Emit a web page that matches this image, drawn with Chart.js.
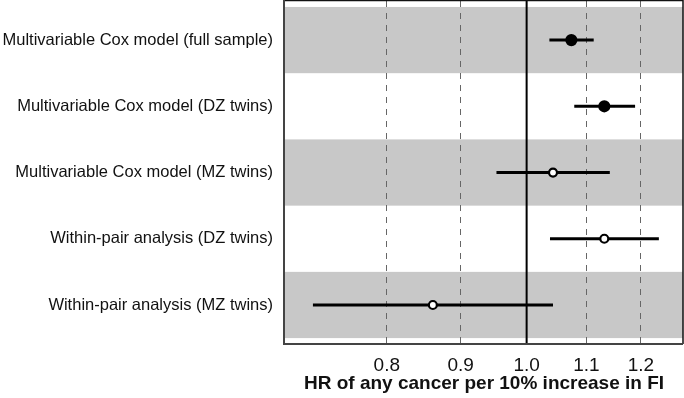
<!DOCTYPE html>
<html>
<head>
<meta charset="utf-8">
<script src="https://cdn.jsdelivr.net/npm/chart.js@4"></script>
<style>
    html, body { margin: 0; padding: 0; background: #fff; }
    #wrap { width: 684px; height: 398px; }
</style>
</head>
<body>
<div id="wrap"><canvas id="forestChart" width="684" height="398"></canvas></div>
<script>
// Estimates (top row first)
const models = [
    'Multivariable Cox model (full sample)',
    'Multivariable Cox model (DZ twins)',
    'Multivariable Cox model (MZ twins)',
    'Within-pair analysis (DZ twins)',
    'Within-pair analysis (MZ twins)'
];
const hr = [1.074, 1.132, 1.043, 1.132, 0.861];
const ciLow = [1.037, 1.079, 0.953, 1.038, 0.711];
const ciHigh = [1.113, 1.189, 1.142, 1.235, 1.043];
const filled = [true, true, false, false, false];
const xTicks = [0.8, 0.9, 1.0, 1.1, 1.2];

const X_MIN = 0.681;
const X_MAX = 1.2835;
const Y_MIN = 0.41;
const Y_MAX = 5.574;
const FONT = "'Liberation Sans', Arial, Helvetica, sans-serif";

// Gray bands behind every other row
const bandsPlugin = {
    id: 'bands',
    beforeDraw(chart) {
        const { ctx, chartArea } = chart;
        const y = chart.scales.y;
        ctx.save();
        ctx.fillStyle = '#c8c8c8';
        models.forEach((m, i) => {
            if (i % 2 !== 0) return;
            const top = y.getPixelForValue(i + 0.5);
            const bottom = y.getPixelForValue(i + 1.5);
            ctx.fillRect(chartArea.left, top, chartArea.right - chartArea.left, bottom - top);
        });
        ctx.restore();
    }
};

// Box around the panel
const framePlugin = {
    id: 'frame',
    afterDraw(chart) {
        const { ctx, chartArea } = chart;
        const { left, right, top, bottom } = chartArea;
        ctx.save();
        ctx.lineWidth = 1.5;
        ctx.strokeStyle = '#111';
        ctx.beginPath();
        ctx.moveTo(left, top - 0.5);
        ctx.lineTo(right, top - 0.5);
        ctx.lineTo(right, bottom + 1);
        ctx.stroke();
        ctx.lineWidth = 2;
        ctx.strokeStyle = '#444';
        ctx.beginPath();
        ctx.moveTo(left - 1, top - 1);
        ctx.lineTo(left - 1, bottom + 1);
        ctx.lineTo(right, bottom + 1);
        ctx.stroke();
        ctx.restore();
    }
};

const ciSets = models.map((m, i) => ({
    label: m,
    data: [{ x: ciLow[i], y: i + 1 }, { x: ciHigh[i], y: i + 1 }],
    showLine: true,
    borderColor: '#000',
    borderWidth: 3,
    pointRadius: 0,
    order: 1
}));

const ctx = document.getElementById('forestChart').getContext('2d');
new Chart(ctx, {
    type: 'scatter',
    data: {
        datasets: [
            {
                label: 'HR',
                data: hr.map((v, i) => ({ x: v, y: i + 1 })),
                pointRadius: filled.map(f => f ? 5 : 4),
                pointBackgroundColor: filled.map(f => f ? '#000' : '#fff'),
                pointBorderColor: '#000',
                pointBorderWidth: 2.2,
                order: 0
            },
            ...ciSets,
            {
                label: 'null',
                data: [{ x: 1, y: Y_MIN }, { x: 1, y: Y_MAX }],
                showLine: true,
                borderColor: '#000',
                borderWidth: 2,
                pointRadius: 0,
                order: 2
            }
        ]
    },
    options: {
        responsive: false,
        animation: false,
        layout: { autoPadding: false, padding: { top: 1, right: 1, left: 0, bottom: 0 } },
        plugins: {
            legend: { display: false },
            tooltip: { enabled: false }
        },
        scales: {
            x: {
                type: 'logarithmic',
                min: X_MIN,
                max: X_MAX,
                afterBuildTicks: scale => {
                    scale.ticks = xTicks.map(v => ({ value: v }));
                },
                afterFit: scale => {
                    scale.height = 55;
                    scale.paddingLeft = 0;
                    scale.paddingRight = 0;
                },
                ticks: {
                    autoSkip: false,
                    maxRotation: 0,
                    padding: 11,
                    color: '#111',
                    font: { family: FONT, size: 19 },
                    callback: v => Number(v).toFixed(1)
                },
                grid: {
                    drawTicks: false,
                    color: ctx => (ctx.tick && ctx.tick.value === 1) ? 'rgba(0,0,0,0)' : '#666',
                    lineWidth: 1
                },
                border: { display: false, dash: [6, 6] },
                title: {
                    display: true,
                    text: 'HR of any cancer per 10% increase in FI',
                    color: '#111',
                    font: { family: FONT, size: 19, weight: 'bold' },
                    padding: { top: 0, bottom: 3 }
                }
            },
            y: {
                type: 'linear',
                min: Y_MIN,
                max: Y_MAX,
                reverse: true,
                afterBuildTicks: scale => {
                    scale.ticks = models.map((m, i) => ({ value: i + 1 }));
                },
                afterFit: scale => {
                    scale.width = 285;
                    scale.paddingTop = 0;
                    scale.paddingBottom = 0;
                },
                ticks: {
                    autoSkip: false,
                    padding: 12,
                    color: '#111',
                    font: { family: FONT, size: 16.5 },
                    callback: v => models[Math.round(v) - 1] || ''
                },
                grid: { display: false, drawTicks: false },
                border: { display: false }
            }
        }
    },
    plugins: [bandsPlugin, framePlugin]
});
</script>
</body>
</html>
